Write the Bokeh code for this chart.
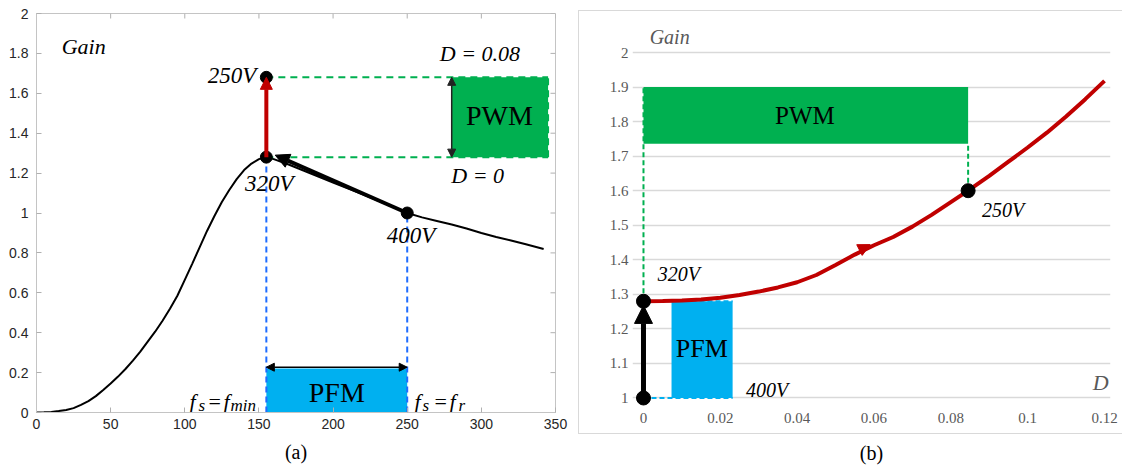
from bokeh.plotting import figure
from bokeh.layouts import row
from bokeh.models import (Range1d, FixedTicker, NumeralTickFormatter,
                          Arrow, NormalHead)
from bokeh.core.properties import value
from bokeh.embed import file_html
from bokeh.resources import INLINE

# ---------------- (a) gain versus switching frequency ----------------
freq = [0, 5, 10, 15, 20, 25, 30, 35, 40, 45, 50, 55, 60, 65, 70, 75, 80, 85, 90,
        95, 100, 105, 110, 115, 120, 125, 130, 135, 140, 145, 150, 155, 160, 170,
        180, 200, 220, 240, 250, 260, 270, 280, 290, 300, 310, 320, 330, 342]
gain_f = [0, 0.001, 0.003, 0.007, 0.013, 0.022, 0.038, 0.057, 0.082, 0.113, 0.145,
          0.18, 0.218, 0.26, 0.305, 0.355, 0.405, 0.46, 0.52, 0.585, 0.665, 0.745,
          0.828, 0.91, 0.985, 1.055, 1.115, 1.17, 1.215, 1.248, 1.27, 1.28, 1.27,
          1.243, 1.213, 1.153, 1.094, 1.032, 1.0, 0.978, 0.96, 0.942, 0.922, 0.9,
          0.88, 0.862, 0.843, 0.82]
freq_ticks = [0, 50, 100, 150, 200, 250, 300, 350]
gain_ticks_a = [0, 0.2, 0.4, 0.6, 0.8, 1.0, 1.2, 1.4, 1.6, 1.8, 2.0]

f_min, f_r = 155, 250           # PFM limits
g_320, g_400, g_250 = 1.28, 1.0, 1.68
pwm_f = [280, 345]              # PWM block (frequency span)
pfm_top_a = 0.22                # PFM block height

# ---------------- (b) gain versus duty cycle ----------------
duty = [0, 0.005, 0.01, 0.015, 0.02, 0.025, 0.03, 0.035, 0.04, 0.045, 0.05, 0.055,
        0.06, 0.065, 0.07, 0.075, 0.08, 0.0845, 0.09, 0.095, 0.10, 0.105, 0.11,
        0.115, 0.12]
gain_d = [1.28, 1.2805, 1.282, 1.285, 1.29, 1.298, 1.308, 1.32, 1.335, 1.356, 1.385,
          1.415, 1.442, 1.466, 1.496, 1.53, 1.567, 1.60, 1.643, 1.684, 1.725, 1.768,
          1.815, 1.865, 1.918]
duty_ticks = [0, 0.02, 0.04, 0.06, 0.08, 0.1, 0.12]
gain_ticks_b = [1.0, 1.1, 1.2, 1.3, 1.4, 1.5, 1.6, 1.7, 1.8, 1.9, 2.0]
d_250 = 0.0845
g_250_b = 1.60
pwm_gain_b = [1.736, 1.90]
pfm_duty_b = [0.0073, 0.0232]

RED = "#c00000"
GREEN = "#00b050"
CYAN = "#00b0f0"
BLUE = "#1e6cff"
SERIF = value("Liberation Serif")

# both panels share the same vertical frame (the row aligns them)
BORDER_TOP, BORDER_BOTTOM = 13, 58

# ======================= panel (a) =======================
XA0, XA1, YA0, YA1 = 0, 350, 0, 2
pa = figure(width=576, height=470, title=None,
            x_range=Range1d(XA0, XA1), y_range=Range1d(YA0, YA1),
            output_backend="svg", toolbar_location=None,
            min_border_left=36, min_border_right=21,
            min_border_top=BORDER_TOP, min_border_bottom=BORDER_BOTTOM)
pa.grid.visible = False
pa.outline_line_color = "#c4c4c4"

for ax in (pa.xaxis[0], pa.yaxis[0]):
    ax.axis_line_color = "#c4c4c4"
    ax.major_tick_line_color = "#b0b0b0"
    ax.major_tick_in = 5
    ax.major_tick_out = 0
    ax.minor_tick_line_color = None
    ax.major_label_text_font = "Liberation Sans"
    ax.major_label_text_font_size = "14px"
    ax.major_label_text_color = "#262626"
    ax.formatter = NumeralTickFormatter(format="0.[00]")
pa.xaxis.ticker = FixedTicker(ticks=freq_ticks)
pa.yaxis.ticker = FixedTicker(ticks=gain_ticks_a)
pa.xaxis.major_label_standoff = 6
pa.yaxis.major_label_standoff = 8
pa.xaxis.axis_label = "(a)"
pa.xaxis.axis_label_text_font = "Liberation Serif"
pa.xaxis.axis_label_text_font_style = "normal"
pa.xaxis.axis_label_text_font_size = "20px"
pa.xaxis.axis_label_text_color = "black"
pa.xaxis.axis_label_standoff = 9

# inward ticks on the top and right edges of the box
tick_dx = 5 * (XA1 - XA0) / 519
tick_dy = 5 * (YA1 - YA0) / 399
pa.segment(x0=freq_ticks, y0=[YA1] * len(freq_ticks), x1=freq_ticks,
           y1=[YA1 - tick_dy] * len(freq_ticks), line_color="#b0b0b0", line_width=1)
pa.segment(x0=[XA1] * len(gain_ticks_a), y0=gain_ticks_a,
           x1=[XA1 - tick_dx] * len(gain_ticks_a), y1=gain_ticks_a,
           line_color="#b0b0b0", line_width=1)

# PFM and PWM blocks
pa.quad(left=[f_min], right=[f_r], bottom=[0], top=[pfm_top_a], fill_color=CYAN, line_color=None)
pa.quad(left=[pwm_f[0]], right=[pwm_f[1]], bottom=[g_320], top=[g_250],
        fill_color=GREEN, line_color=None)

# gain curve
pa.line(freq, gain_f, line_color="black", line_width=2)

# dashed guides
pa.segment(x0=[f_min, f_r], y0=[0, 0], x1=[f_min, f_r], y1=[g_320, g_400],
           line_color=BLUE, line_width=2, line_dash="6 4")
pa.segment(x0=[f_min, f_min, pwm_f[1]], y0=[g_250, g_320, g_320],
           x1=[pwm_f[1], pwm_f[1], pwm_f[1]], y1=[g_250, g_320, g_250],
           line_color=GREEN, line_width=2, line_dash="7 5")

# operating points
pa.scatter([f_min, f_r, f_min], [g_320, g_400, g_250], size=12, color="black")

# trajectory arrows
pa.add_layout(Arrow(end=NormalHead(size=12, fill_color=RED, line_color=RED),
                    x_start=f_min, y_start=g_320, x_end=f_min, y_end=g_250,
                    line_color=RED, line_width=4))
pa.add_layout(Arrow(end=NormalHead(size=14, fill_color="black", line_color="black"),
                    x_start=f_r, y_start=g_400, x_end=161, y_end=1.29,
                    line_color="black", line_width=4))
pa.add_layout(Arrow(start=NormalHead(size=8, fill_color="black", line_color="black"),
                    end=NormalHead(size=8, fill_color="black", line_color="black"),
                    x_start=f_min, y_start=0.227, x_end=f_r, y_end=0.227,
                    line_color="black", line_width=1.5))
pa.add_layout(Arrow(start=NormalHead(size=8, fill_color="#222", line_color="#222"),
                    end=NormalHead(size=8, fill_color="#222", line_color="#222"),
                    x_start=pwm_f[0], y_start=g_320, x_end=pwm_f[0], y_end=g_250,
                    line_color="#222", line_width=1.5))


def txt(p, x, y, s, size, style="italic", align="center", baseline="middle",
        color="black", xoff=0):
    p.text(x=[x], y=[y], text=[s], text_font=SERIF, text_font_size=size,
           text_font_style=style, text_align=align, text_baseline=baseline,
           text_color=color, x_offset=xoff)


txt(pa, 17, 1.835, "Gain", "22px", align="left")
txt(pa, 148.3, 1.69, "250V", "23px", align="right")
txt(pa, 157, 1.15, "320V", "23px")
txt(pa, 252.6, 0.887, "400V", "23px")
txt(pa, 299, 1.80, "D = 0.08", "22px")
txt(pa, 297.5, 1.19, "D = 0", "22px")
txt(pa, 312.2, 1.49, "PWM", "28px", style="normal")
txt(pa, 202.5, 0.10, "PFM", "28px", style="normal")

# f_s = f_min  and  f_s = f_r, built from pieces with lowered subscripts
base_main, base_sub = 0.055, 0.035
for x0, pieces in ((103.2, [("f", 0, False), ("s", 9, True), ("=", 19, False),
                            ("f", 34, False), ("min", 41, True)]),
                   (254.9, [("f", 0, False), ("s", 8, True), ("=", 20, False),
                            ("f", 35, False), ("r", 44, True)])):
    for s, off, sub in pieces:
        txt(pa, x0, base_sub if sub else base_main, s, "17px" if sub else "22px",
            style="normal" if s == "=" else "italic", align="left",
            baseline="alphabetic", xoff=off)

# ======================= panel (b) =======================
pb = figure(width=546, height=470, title=None, x_range=Range1d(-0.00286, 0.12156),
            y_range=Range1d(0.958, 2.1129), output_backend="svg", toolbar_location=None,
            min_border_left=56, min_border_right=12,
            min_border_top=BORDER_TOP, min_border_bottom=BORDER_BOTTOM)
pb.outline_line_color = None
pb.stylesheets = [
    ":host { position: relative; }",
    ":host::after { content: ''; position: absolute; left: 2px; top: 10px; "
    "width: 560px; height: 424px; border: 1px solid #d9d9d9; "
    "box-sizing: border-box; pointer-events: none; }",
]
pb.xgrid.visible = False
pb.ygrid.ticker = FixedTicker(ticks=gain_ticks_b)
pb.ygrid.bounds = (0, 0.12)
pb.ygrid.grid_line_color = "#d9d9d9"
pb.ygrid.grid_line_width = 1.3
pb.xaxis.ticker = FixedTicker(ticks=duty_ticks)
pb.yaxis.ticker = FixedTicker(ticks=gain_ticks_b)
for ax in (pb.xaxis[0], pb.yaxis[0]):
    ax.axis_line_color = None
    ax.major_tick_line_color = None
    ax.minor_tick_line_color = None
    ax.major_tick_in = 0
    ax.major_tick_out = 0
    ax.major_label_text_font = "Liberation Serif"
    ax.major_label_text_font_size = "15px"
    ax.major_label_text_color = "#595959"
    ax.formatter = NumeralTickFormatter(format="0.[00]")
pb.xaxis.major_label_standoff = 0
pb.yaxis.major_label_standoff = 4
pb.xaxis.axis_label = "(b)"
pb.xaxis.axis_label_text_font = "Liberation Serif"
pb.xaxis.axis_label_text_font_style = "normal"
pb.xaxis.axis_label_text_font_size = "20px"
pb.xaxis.axis_label_text_color = "black"
pb.xaxis.axis_label_standoff = 16

# blocks
pb.quad(left=[0], right=[d_250], bottom=[pwm_gain_b[0]], top=[pwm_gain_b[1]],
        fill_color=GREEN, line_color=None)
pb.quad(left=[pfm_duty_b[0]], right=[pfm_duty_b[1]], bottom=[g_400], top=[g_320],
        fill_color=CYAN, line_color=None)

# dashed guides
pb.segment(x0=[0, d_250], y0=[g_320, g_250_b], x1=[0, d_250],
           y1=[pwm_gain_b[1], pwm_gain_b[0]],
           line_color=GREEN, line_width=2, line_dash="5 3")
pb.segment(x0=[0, 0], y0=[g_320, g_400], x1=[pfm_duty_b[1], pfm_duty_b[1]],
           y1=[g_320, g_400], line_color=CYAN, line_width=2, line_dash="5 3")

# gain curve with direction arrow
pb.line(duty, gain_d, line_color=RED, line_width=4)
pb.add_layout(Arrow(end=NormalHead(size=12, fill_color=RED, line_color=RED),
                    x_start=0.056, y_start=1.427, x_end=0.0590, y_end=1.444,
                    line_color=RED, line_width=0))

pb.add_layout(Arrow(end=NormalHead(size=18, fill_color="black", line_color="black"),
                    x_start=0, y_start=g_400, x_end=0, y_end=1.268,
                    line_color="black", line_width=5))
pb.scatter([0, 0, d_250], [g_320, g_400, g_250_b], size=14, color="black")

txt(pb, 0.0016, 2.046, "Gain", "20px", align="left", color="#595959")
txt(pb, 0.119, 1.045, "D", "22px", color="#595959")
txt(pb, 0.042, 1.817, "PWM", "25px", style="normal")
txt(pb, 0.0152, 1.143, "PFM", "26px", style="normal")
txt(pb, 0.0092, 1.36, "320V", "20px")
txt(pb, 0.0322, 1.022, "400V", "20px")
txt(pb, 0.0936, 1.543, "250V", "20px")

layout = row(pa, pb, spacing=0)
open("out.html", "w").write(file_html(layout, INLINE))
